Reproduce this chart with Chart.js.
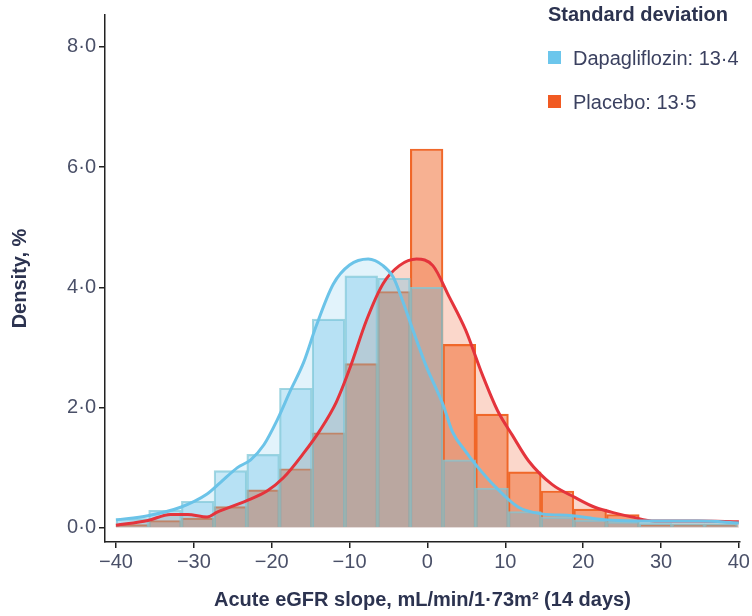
<!DOCTYPE html>
<html>
<head>
<meta charset="utf-8">
<title>Acute eGFR slope density</title>
<script src="https://cdn.jsdelivr.net/npm/chart.js@4.4.1/dist/chart.umd.min.js"></script>
<style>
  html, body { margin: 0; padding: 0; background: #fff; }
  #wrap { position: relative; width: 752px; height: 616px; }
  #legend { position: absolute; left: 548px; top: 0; font-family: "Liberation Sans", Arial, sans-serif; color: #3b4160; }
  #legend .title { position: absolute; top: 2px; left: 0; font-weight: bold; font-size: 20px; line-height: 24px; white-space: nowrap; color: #2c3350; }
  #legend .item { position: absolute; left: 0; font-size: 20px; line-height: 24px; white-space: nowrap; }
  #legend .sw { position: absolute; left: 0; top: 5px; width: 13px; height: 13px; }
  #legend .txt { position: absolute; left: 25px; top: 0; }
</style>
</head>
<body>
<div id="wrap">
  <canvas id="chart" width="752" height="616"></canvas>
  <div id="legend">
    <div class="title">Standard deviation</div>
    <div class="item" style="top:46px"><span class="sw" style="background:#6cc6ec"></span><span class="txt">Dapagliflozin: 13·4</span></div>
    <div class="item" style="top:90px"><span class="sw" style="background:#f15a22"></span><span class="txt">Placebo: 13·5</span></div>
  </div>
</div>
<script>
// histogram bins (width 4.2, first edge at -40)
const binCenters = [-37.9, -33.7, -29.5, -25.3, -21.1, -16.9, -12.7, -8.5, -4.3, -0.1,
                    4.1, 8.3, 12.5, 16.7, 20.9, 25.1, 29.3, 33.5, 37.7];
const dapaBars = [0.15, 0.29, 0.44, 0.95, 1.22, 2.32, 3.47, 4.19, 4.15, 4.0,
                  1.13, 0.66, 0.27, 0.18, 0.13, 0.1, 0.08, 0.07, 0.07];
const placeboBars = [0.05, 0.12, 0.16, 0.35, 0.63, 0.98, 1.58, 2.73, 3.93, 6.3,
                     3.05, 1.89, 0.93, 0.61, 0.31, 0.22, 0.05, 0.05, 0.05];

// density curves
const dapaCurveX = [-40, -35.9, -31.7, -28.3, -26.6, -24.4, -22.7, -21, -19.3, -17.6, -15.9, -14.3,
                    -12.1, -10, -7.6, -5.7, -4.4, -3.2, -1.9, -0.2, 2, 3.2, 4.9, 6.2, 8.8, 11.7,
                    14.7, 18.6, 21.5, 24.5, 30, 35, 40];
const dapaCurveY = [0.13, 0.2, 0.34, 0.56, 0.75, 1.0, 1.13, 1.38, 1.79, 2.28, 2.75, 3.35,
                    4.05, 4.37, 4.47, 4.36, 4.17, 3.78, 3.3, 2.7, 2.05, 1.6, 1.27, 1.05, 0.67, 0.34,
                    0.23, 0.2, 0.15, 0.12, 0.11, 0.11, 0.08];
const placeboCurveX = [-40, -35.9, -33, -30.8, -28.3, -27, -23.2, -20.6, -18.5, -15.9, -13.8, -11.7,
                       -10, -7.8, -5.7, -3.6, -1.4, 0.7, 2.8, 4.9, 7.1, 9, 10.9, 13, 16, 19,
                       21.5, 24.5, 26.2, 29.2, 34.7, 40];
const placeboCurveY = [0.04, 0.12, 0.22, 0.22, 0.18, 0.26, 0.45, 0.61, 0.83, 1.24, 1.62, 2.09,
                       2.64, 3.46, 4.06, 4.36, 4.47, 4.36, 3.84, 3.29, 2.53, 1.95, 1.54, 1.11, 0.72, 0.5,
                       0.34, 0.23, 0.18, 0.11, 0.11, 0.1];

const xTicks = [-40, -30, -20, -10, 0, 10, 20, 30, 40];
const yTicks = [0, 2, 4, 6, 8];

const FONT = '"Liberation Sans", Arial, sans-serif';
const pts = (xs, ys) => xs.map((x, i) => ({ x: x, y: ys[i] }));

const ctx = document.getElementById("chart").getContext("2d");
new Chart(ctx, {
  type: "bar",
  data: {
    datasets: [
      {
        type: "line",
        label: "Dapagliflozin density",
        data: pts(dapaCurveX, dapaCurveY),
        borderColor: "#6bc3e8",
        borderWidth: 3,
        backgroundColor: "rgba(110,195,235,0.2)",
        fill: "origin",
        pointRadius: 0,
        cubicInterpolationMode: "monotone",
        order: 0,
      },
      {
        type: "line",
        label: "Placebo density",
        data: pts(placeboCurveX, placeboCurveY),
        borderColor: "#e4343c",
        borderWidth: 3,
        backgroundColor: "rgba(240,110,70,0.28)",
        fill: "origin",
        pointRadius: 0,
        cubicInterpolationMode: "monotone",
        order: 0,
      },
      {
        label: "Dapagliflozin",
        data: pts(binCenters, dapaBars),
        backgroundColor: "rgba(100,190,230,0.34)",
        borderColor: "rgba(130,200,215,0.75)",
        borderWidth: 1.5,
        grouped: false,
        barPercentage: 1,
        categoryPercentage: 1,
        order: 1,
      },
      {
        label: "Placebo",
        data: pts(binCenters, placeboBars),
        backgroundColor: "rgba(240,100,38,0.5)",
        borderColor: "#f0682a",
        borderWidth: 1.5,
        grouped: false,
        barPercentage: 1,
        categoryPercentage: 1,
        order: 2,
      },
    ],
  },
  options: {
    responsive: false,
    animation: false,
    devicePixelRatio: 1,
    layout: { padding: { top: 7, right: 10, left: 0, bottom: 0 } },
    plugins: {
      legend: { display: false },
      tooltip: { enabled: false },
      filler: { drawTime: "beforeDatasetsDraw" },
    },
    scales: {
      x: {
        type: "linear",
        min: -41.41,
        max: 40.13,
        offset: false,
        afterBuildTicks: (s) => { s.ticks = xTicks.map((v) => ({ value: v })); },
        afterFit: (s) => { s.height = 74; },
        grid: { display: true, drawOnChartArea: false, drawTicks: true, tickLength: 6, color: "#222", lineWidth: 1.5, offset: false },
        border: { display: true, color: "#222", width: 1.5 },
        ticks: {
          color: "#4a5068",
          font: { family: FONT, size: 20 },
          padding: 2,
          maxRotation: 0,
          autoSkip: false,
          callback: (v) => (v < 0 ? "\u2212" + Math.abs(v) : String(v)),
        },
        title: {
          display: true,
          text: "Acute eGFR slope, mL/min/1·73m² (14 days)",
          color: "#2c3350",
          font: { family: FONT, size: 20, weight: "bold" },
          padding: { top: 0, bottom: 4 },
        },
      },
      y: {
        min: -0.238,
        max: 8.53,
        afterBuildTicks: (s) => { s.ticks = yTicks.map((v) => ({ value: v })); },
        afterFit: (s) => { s.width = 105; },
        grid: { display: true, drawOnChartArea: false, drawTicks: true, tickLength: 6, color: "#222", lineWidth: 1.5 },
        border: { display: true, color: "#222", width: 1.5 },
        ticks: {
          color: "#4a5068",
          font: { family: FONT, size: 20 },
          padding: 3,
          callback: (v) => v.toFixed(1).replace(".", "·"),
        },
        title: {
          display: true,
          text: "Density, %",
          color: "#2c3350",
          font: { family: FONT, size: 20, weight: "bold" },
          padding: { top: 8, bottom: 0 },
        },
      },
    },
  },
});
</script>
</body>
</html>
